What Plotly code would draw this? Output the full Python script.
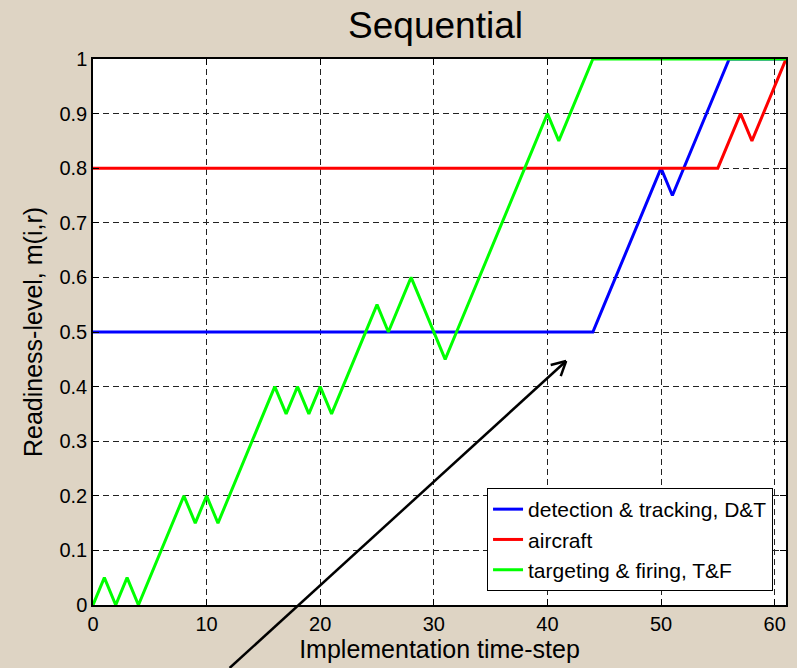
import numpy as np
import plotly.graph_objects as go

# ---------------- data ----------------
steps = [0, 1, 2, 3, 4, 5, 6, 7, 8, 9, 10, 11, 12, 13, 14, 15, 16, 17, 18, 19, 20,
         21, 22, 23, 24, 25, 26, 27, 28, 29, 30, 31, 32, 33, 34, 35, 36, 37, 38, 39, 40,
         41, 42, 43, 44, 45, 46, 47, 48, 49, 50, 51, 52, 53, 54, 55, 56, 57, 58, 59, 60, 61]

detection_tracking = [0.5, 0.5, 0.5, 0.5, 0.5, 0.5, 0.5, 0.5, 0.5, 0.5, 0.5,
                      0.5, 0.5, 0.5, 0.5, 0.5, 0.5, 0.5, 0.5, 0.5, 0.5,
                      0.5, 0.5, 0.5, 0.5, 0.5, 0.5, 0.5, 0.5, 0.5, 0.5,
                      0.5, 0.5, 0.5, 0.5, 0.5, 0.5, 0.5, 0.5, 0.5, 0.5,
                      0.5, 0.5, 0.5, 0.5, 0.55, 0.6, 0.65, 0.7, 0.75, 0.8,
                      0.75, 0.8, 0.85, 0.9, 0.95, 1.0, 1.0, 1.0, 1.0, 1.0, 1.0]

aircraft = [0.8, 0.8, 0.8, 0.8, 0.8, 0.8, 0.8, 0.8, 0.8, 0.8, 0.8,
            0.8, 0.8, 0.8, 0.8, 0.8, 0.8, 0.8, 0.8, 0.8, 0.8,
            0.8, 0.8, 0.8, 0.8, 0.8, 0.8, 0.8, 0.8, 0.8, 0.8,
            0.8, 0.8, 0.8, 0.8, 0.8, 0.8, 0.8, 0.8, 0.8, 0.8,
            0.8, 0.8, 0.8, 0.8, 0.8, 0.8, 0.8, 0.8, 0.8, 0.8,
            0.8, 0.8, 0.8, 0.8, 0.8, 0.85, 0.9, 0.85, 0.9, 0.95, 1.0]

targeting_firing = [0.0, 0.05, 0.0, 0.05, 0.0, 0.05, 0.1, 0.15, 0.2, 0.15, 0.2,
                    0.15, 0.2, 0.25, 0.3, 0.35, 0.4, 0.35, 0.4, 0.35, 0.4,
                    0.35, 0.4, 0.45, 0.5, 0.55, 0.5, 0.55, 0.6, 0.55, 0.5,
                    0.45, 0.5, 0.55, 0.6, 0.65, 0.7, 0.75, 0.8, 0.85, 0.9,
                    0.85, 0.9, 0.95, 1.0, 1.0, 1.0, 1.0, 1.0, 1.0, 1.0,
                    1.0, 1.0, 1.0, 1.0, 1.0, 1.0, 1.0, 1.0, 1.0, 1.0, 1.0]

series_names = ["detection & tracking, D&T", "aircraft", "targeting & firing, T&F"]
series_colors = ["#0000FF", "#FF0000", "#00FF00"]

x_ticks = [0, 10, 20, 30, 40, 50, 60]
y_ticks = [0, 0.1, 0.2, 0.3, 0.4, 0.5, 0.6, 0.7, 0.8, 0.9, 1]
y_tick_labels = ["0", "0.1", "0.2", "0.3", "0.4", "0.5", "0.6", "0.7", "0.8", "0.9", "1"]

# ---------------- figure ----------------
W, H = 797, 668
ML, MR, MT, MB = 93, 9, 59, 63
FONT = "Liberation Sans, Arial, Helvetica, sans-serif"
BG = "#DED4C4"

fig = go.Figure()
for name, ys, col in zip(series_names, [detection_tracking, aircraft, targeting_firing], series_colors):
    fig.add_trace(go.Scatter(x=steps, y=ys, mode="lines", name=name,
                             line=dict(color=col, width=3), cliponaxis=True))

axis_common = dict(
    showline=True, linecolor="black", linewidth=1.5, mirror="ticks",
    ticks="inside", ticklen=6, tickcolor="black", tickwidth=1,
    showgrid=True, gridcolor="#222222", gridwidth=1, griddash="6px,4px",
    zeroline=False, tickfont=dict(family=FONT, size=20, color="black"),
)

fig.update_xaxes(range=[0, 61], tickvals=x_ticks,
                 title=dict(text="Implementation time-step", standoff=6,
                            font=dict(family=FONT, size=25, color="black")),
                 **axis_common)
fig.update_yaxes(range=[0, 1], tickvals=y_ticks, ticktext=y_tick_labels,
                 title=dict(text="Readiness-level, m(i,r)", standoff=10,
                            font=dict(family=FONT, size=25, color="black")),
                 **axis_common)

# arrow (annotation drawn with shapes in pixel -> paper coordinates)
pw, ph = W - ML - MR, H - MT - MB
def to_paper(px, py):
    return (px - ML) / pw, (H - MB - py) / ph

tail = np.array([230.0, 668.0])
tip = np.array([567.5, 361.0])
d = (tail - tip) / np.linalg.norm(tail - tip)
arm = 16.0
ang = np.deg2rad(28)
rot = lambda v, a: np.array([v[0] * np.cos(a) - v[1] * np.sin(a), v[0] * np.sin(a) + v[1] * np.cos(a)])
h1 = tip + arm * rot(d, ang)
h2 = tip + arm * rot(d, -ang)
for a, b in [(tail, tip), (h1, tip), (h2, tip)]:
    x0, y0 = to_paper(*a)
    x1, y1 = to_paper(*b)
    fig.add_shape(type="line", xref="paper", yref="paper", x0=x0, y0=y0, x1=x1, y1=y1,
                  line=dict(color="black", width=2.5), layer="above")

fig.update_layout(
    width=W, height=H,
    margin=dict(l=ML, r=MR, t=MT, b=MB),
    paper_bgcolor=BG, plot_bgcolor="white",
    title=dict(text="Sequential", x=435.5 / W, xanchor="center", xref="container",
               y=1 - 25 / H, yanchor="middle", yref="container",
               font=dict(family=FONT, size=37, color="black")),
    font=dict(family=FONT, color="black"),
    legend=dict(x=(775 - ML) / pw, y=(H - MB - 591) / ph, xanchor="right", yanchor="bottom",
                bgcolor="white", bordercolor="black", borderwidth=1,
                font=dict(family=FONT, size=21, color="black"),
                tracegroupgap=0),
    showlegend=True,
)

fig.write_html("out.html")
